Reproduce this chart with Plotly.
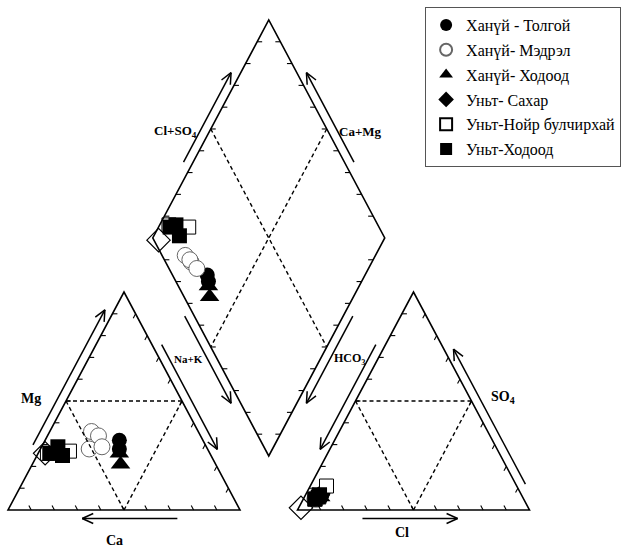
import numpy as np
import plotly.graph_objects as go

# ---------------- data (milliequivalent %) ----------------
series_names = ["Ханүй - Толгой", "Ханүй- Мэдрэл", "Ханүй- Ходоод",
                "Уньт- Сахар", "Уньт-Нойр булчирхай", "Уньт-Ходоод"]

# cations: Ca, Mg, Na+K
tolgoi_ca = [36, 38];            tolgoi_mg = [32, 28];            tolgoi_nak = [32, 34]
medrel_ca = [46, 44, 51, 45];    medrel_mg = [36, 34, 28, 29];    medrel_nak = [18, 22, 21, 26]
khodood_ca = [39, 41];           khodood_mg = [26, 21];           khodood_nak = [35, 38]
sakhar_ca = [71];                sakhar_mg = [26];                sakhar_nak = [3]
noir_ca = [60, 70];              noir_mg = [27, 26];              noir_nak = [13, 4]
unt_khodood_ca = [69, 64, 64];   unt_khodood_mg = [26, 29, 25];   unt_khodood_nak = [5, 7, 11]

# anions: HCO3, SO4, Cl
tolgoi_hco3 = [85, 86];          tolgoi_so4 = [8, 7];             tolgoi_cl = [7, 7]
medrel_hco3 = [90, 89, 89, 88];  medrel_so4 = [5, 6, 5, 6];       medrel_cl = [5, 5, 6, 6]
khodood_hco3 = [87, 89];         khodood_so4 = [6, 5];            khodood_cl = [7, 6]
sakhar_hco3 = [98];              sakhar_so4 = [1];                sakhar_cl = [1]
noir_hco3 = [82, 90];            noir_so4 = [11, 5];              noir_cl = [7, 5]
unt_khodood_hco3 = [90, 87, 88]; unt_khodood_so4 = [5, 7, 6];     unt_khodood_cl = [5, 6, 6]

# ---------------- Piper geometry (page pixel units) ----------------
W, H, X0, Y0, G = 232.0, 218.0, 8.0, 510.0, 57.5
cA = np.array([X0, Y0]); cB = np.array([X0 + W, Y0]); cC = np.array([X0 + W / 2, Y0 - H])
aA = np.array([X0 + W + G, Y0]); aB = np.array([X0 + 2 * W + G, Y0]); aC = np.array([X0 + W + G + W / 2, Y0 - H])
dB = np.array([X0 + W + G / 2, Y0 - H * G / W])
dL = dB + np.array([-W / 2, -H]); dT = dB + np.array([0, -2 * H]); dR = dB + np.array([W / 2, -H])
cCen = (cA + cB + cC) / 3; aCen = (aA + aB + aC) / 3; dCen = (dL + dR) / 2


def cation_xy(ca, mg, nak):
    ca, mg, nak = map(np.asarray, (ca, mg, nak))
    s = ca + mg + nak
    p = (np.outer(ca, cA) + np.outer(nak, cB) + np.outer(mg, cC)) / s[:, None]
    return p[:, 0], p[:, 1]


def anion_xy(hco3, so4, cl):
    hco3, so4, cl = map(np.asarray, (hco3, so4, cl))
    s = hco3 + so4 + cl
    p = (np.outer(hco3, aA) + np.outer(cl, aB) + np.outer(so4, aC)) / s[:, None]
    return p[:, 0], p[:, 1]


def diamond_xy(ca, mg, nak, hco3, so4, cl):
    ca, mg, nak, hco3, so4, cl = map(np.asarray, (ca, mg, nak, hco3, so4, cl))
    n = nak / (ca + mg + nak)
    a = (so4 + cl) / (hco3 + so4 + cl)
    p = dL[None, :] + np.outer(n, dB - dL) + np.outer(a, dT - dL)
    return p[:, 0], p[:, 1]


def all_xy(ca, mg, nak, hco3, so4, cl):
    x1, y1 = cation_xy(ca, mg, nak)
    x2, y2 = diamond_xy(ca, mg, nak, hco3, so4, cl)
    x3, y3 = anion_xy(hco3, so4, cl)
    return np.concatenate([x1, x2, x3]), np.concatenate([y1, y2, y3])


series_data = [
    (tolgoi_ca, tolgoi_mg, tolgoi_nak, tolgoi_hco3, tolgoi_so4, tolgoi_cl),
    (medrel_ca, medrel_mg, medrel_nak, medrel_hco3, medrel_so4, medrel_cl),
    (khodood_ca, khodood_mg, khodood_nak, khodood_hco3, khodood_so4, khodood_cl),
    (sakhar_ca, sakhar_mg, sakhar_nak, sakhar_hco3, sakhar_so4, sakhar_cl),
    (noir_ca, noir_mg, noir_nak, noir_hco3, noir_so4, noir_cl),
    (unt_khodood_ca, unt_khodood_mg, unt_khodood_nak, unt_khodood_hco3, unt_khodood_so4, unt_khodood_cl),
]

markers = [
    dict(symbol="circle", size=15, color="black", line=dict(color="black", width=0)),
    dict(symbol="circle", size=16, color="white", line=dict(color="#666666", width=1)),
    dict(symbol="triangle-up", size=17, color="black", line=dict(color="black", width=0)),
    dict(symbol="diamond", size=18, color="white", line=dict(color="black", width=1.2)),
    dict(symbol="square", size=14, color="white", line=dict(color="black", width=1)),
    dict(symbol="square", size=15, color="black", line=dict(color="black", width=0)),
]

fig = go.Figure()
for i, (name, d, mk) in enumerate(zip(series_names, series_data, markers)):
    x, y = all_xy(*d)
    grp = f"g{i}"
    if i == 3:
        fig.add_trace(go.Scatter(x=x, y=y, mode="markers", marker=mk, showlegend=False,
                                 legendgroup=grp, hoverinfo="skip"))
        fig.add_trace(go.Scatter(x=[None], y=[None], mode="markers", name=name, legendgroup=grp,
                                 marker=dict(symbol="diamond", size=12, color="black")))
    else:
        fig.add_trace(go.Scatter(x=x, y=y, mode="markers", marker=mk, name=name, legendgroup=grp))

# ---------------- frame: outlines, ticks, dashed grid, arrows ----------------
shapes = []
LW = 1.6


def line(p, q, width=LW, dash="solid"):
    shapes.append(dict(type="line", xref="x", yref="y", x0=p[0], y0=p[1], x1=q[0], y1=q[1],
                       line=dict(color="black", width=width, dash=dash)))


def poly(pts):
    path = "M " + " L ".join(f"{p[0]:.2f},{p[1]:.2f}" for p in pts) + " Z"
    shapes.append(dict(type="path", xref="x", yref="y", path=path,
                       line=dict(color="black", width=LW), fillcolor="rgba(0,0,0,0)"))


def ticks(p, q, direction, length=5):
    dvec = np.asarray(direction, float)
    dvec = dvec / np.linalg.norm(dvec) * length
    for k in range(1, 10):
        s = p + (q - p) * k / 10
        line(s, s + dvec, width=1.1)


def arrow(p, q, t0, t1, centre, offset=8.5, head_at_end=True):
    e = q - p
    nrm = np.array([e[1], -e[0]]) / np.linalg.norm(e)
    mid = p + e * 0.5
    if np.dot(nrm, mid - centre) < 0:
        nrm = -nrm
    s = p + e * t0 + nrm * offset
    f = p + e * t1 + nrm * offset
    line(s, f, width=1.5)
    tip, tail = (f, s) if head_at_end else (s, f)
    dv = (tip - tail) / np.linalg.norm(tip - tail)
    perp = np.array([-dv[1], dv[0]])
    b = tip - dv * 11
    line(tip, b + perp * 5, width=1.5)
    line(tip, b - perp * 5, width=1.5)


# outlines
poly([cA, cB, cC])
poly([aA, aB, aC])
poly([dL, dB, dR, dT])

# dashed inner lines
DASH = "4px,3px"
for tri in [(cA, cB, cC), (aA, aB, aC)]:
    A, B, C = tri
    mAB, mBC, mCA = (A + B) / 2, (B + C) / 2, (C + A) / 2
    line(mAB, mBC, width=1.4, dash=DASH)
    line(mBC, mCA, width=1.4, dash=DASH)
    line(mCA, mAB, width=1.4, dash=DASH)
line((dL + dT) / 2, (dB + dR) / 2, width=1.4, dash=DASH)
line((dT + dR) / 2, (dL + dB) / 2, width=1.4, dash=DASH)

# ticks (10 % intervals, pointing inward)
ticks(cA, cC, (1, 0))
ticks(cC, cB, cA - cC)
ticks(cB, cA, cC - cB)
ticks(aA, aC, aB - aA)
ticks(aC, aB, aA - aC)
ticks(aB, aA, aC - aB)
ticks(dL, dT, (1, 0))
ticks(dT, dR, (-1, 0))
ticks(dL, dB, (1, 0))
ticks(dB, dR, (-1, 0))

# arrows, drawn just outside the edges
arrow(cA, cC, 0.28, 0.90, cCen)           # Mg  (up)
arrow(cB, cA, 0.27, 0.68, cCen)           # Ca  (left)
arrow(cC, cB, 0.26, 0.74, cCen)           # Na+K cation (down-right)
arrow(dL, dB, 0.34, 0.74, dCen)           # Na+K diamond (down)
arrow(dL, dT, 0.33, 0.74, dCen)           # Cl+SO4 (up)
arrow(dR, dT, 0.33, 0.74, dCen)           # Ca+Mg (up)
arrow(dR, dB, 0.34, 0.74, dCen)           # HCO3 diamond (down)
arrow(aC, aA, 0.26, 0.74, aCen)           # HCO3 anion (down-left)
arrow(aB, aC, 0.10, 0.72, aCen)           # SO4 (up)
arrow(aA, aB, 0.28, 0.69, aCen)           # Cl  (right)

# ---------------- labels ----------------
FONT = "Liberation Serif, Times New Roman, serif"
labels = [
    ("<b>Cl+SO<sub>4</sub></b>", 175, 131, 13),
    ("<b>Ca+Mg</b>", 360, 131, 13),
    ("<b>Mg</b>", 31, 398, 14),
    ("<b>Ca</b>", 114, 540, 14),
    ("<b>Na+K</b>", 188, 359, 11),
    ("<b>HCO<sub>3</sub></b>", 350, 359, 12),
    ("<b>SO<sub>4</sub></b>", 503, 397, 14),
    ("<b>Cl</b>", 402, 532, 14),
]
annotations = [dict(text=t, x=x, y=y, xref="x", yref="y", showarrow=False,
                    font=dict(family=FONT, size=s, color="black"))
               for t, x, y, s in labels]

fig.update_layout(
    width=627, height=548,
    margin=dict(l=0, r=0, t=0, b=0),
    paper_bgcolor="white", plot_bgcolor="white",
    font=dict(family=FONT, color="black"),
    xaxis=dict(range=[0, 627], visible=False, fixedrange=True),
    yaxis=dict(range=[548, 0], visible=False, fixedrange=True),
    shapes=shapes, annotations=annotations,
    showlegend=True,
    legend=dict(x=0.678, y=0.987, xanchor="left", yanchor="top",
                bordercolor="#555555", borderwidth=1, bgcolor="white",
                font=dict(family=FONT, size=16, color="black"),
                itemsizing="constant", traceorder="grouped", tracegroupgap=1),
)

fig.write_html("out.html", config={"displayModeBar": False},
               post_script="document.body.style.margin='0px';document.body.style.overflow='hidden';")
